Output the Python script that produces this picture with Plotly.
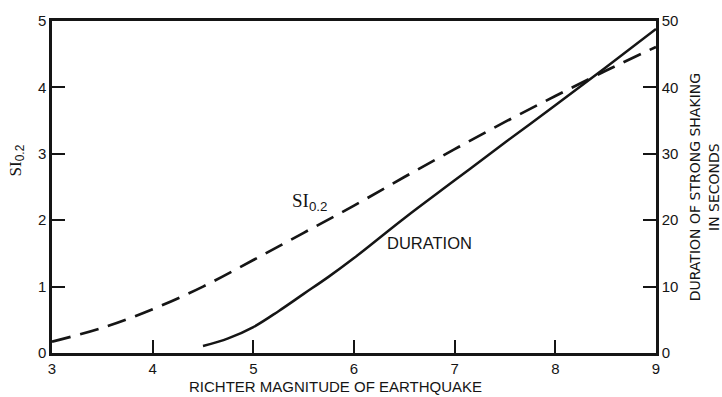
import plotly.graph_objects as go

# Spectrum intensity SI_0.2 versus Richter magnitude (left axis)
si_magnitude = [3.0, 3.5, 4.0, 4.5, 5.0, 5.5, 6.0, 6.5, 7.0, 7.5, 8.0, 8.5, 9.0]
si_values = [0.17, 0.38, 0.66, 1.00, 1.40, 1.81, 2.22, 2.65, 3.07, 3.48, 3.87, 4.25, 4.61]

# Duration of strong shaking in seconds versus magnitude (right axis)
dur_magnitude = [4.5, 4.75, 5.0, 5.25, 5.5, 5.75, 6.0, 6.5, 7.0, 7.5, 8.0, 8.5, 9.0]
dur_seconds = [1.05, 2.2, 3.9, 6.3, 8.9, 11.5, 14.3, 20.3, 26.0, 31.7, 37.3, 43.0, 48.8]

x_ticks = [3, 4, 5, 6, 7, 8, 9]
si_ticks = [0, 1, 2, 3, 4, 5]
dur_ticks = [0, 10, 20, 30, 40, 50]

SANS = "Liberation Sans, Arial, sans-serif"
WIDE = "DejaVu Sans, sans-serif"
SERIF = "Liberation Serif, serif"
INK = "#151515"
SI_TEXT = ("SI<sub><span style='font-family:Liberation Sans;color:#151515'>"
           "0.2</span></sub>")

fig = go.Figure()

fig.add_trace(go.Scatter(
    x=si_magnitude, y=si_values, mode="lines",
    line=dict(color=INK, width=2.7, dash="19px,10px", shape="spline"),
    yaxis="y", showlegend=False, hoverinfo="skip",
))
fig.add_trace(go.Scatter(
    x=dur_magnitude, y=dur_seconds, mode="lines",
    line=dict(color=INK, width=2.5, shape="spline"),
    yaxis="y2", showlegend=False, hoverinfo="skip",
))

axis_common = dict(
    showgrid=False, zeroline=False, showline=True, linecolor=INK, linewidth=2.5,
    ticks="inside", ticklen=13, tickwidth=1.6, tickcolor=INK,
    tickfont=dict(family=SANS, size=15, color=INK),
)

fig.update_layout(
    width=722, height=397,
    margin=dict(l=52, r=66, t=15, b=44),
    paper_bgcolor="white", plot_bgcolor="white",
    xaxis=dict(range=[3, 9], tickvals=x_ticks, mirror=True, **axis_common),
    yaxis=dict(range=[0, 5], tickvals=si_ticks, **axis_common),
    yaxis2=dict(range=[0, 50], tickvals=dur_ticks, overlaying="y", side="right",
                **axis_common),
    annotations=[
        dict(text="RICHTER MAGNITUDE OF EARTHQUAKE", xref="paper", yref="paper",
             x=0.47, y=-0.068, xanchor="center", yanchor="top", showarrow=False,
             font=dict(family=SANS, size=15, color=INK)),
        dict(text=SI_TEXT, xref="paper", yref="paper",
             x=-0.058, y=0.58, xanchor="center", yanchor="middle",
             textangle=-90, showarrow=False,
             font=dict(family=SERIF, size=17, color=INK)),
        dict(text="DURATION OF STRONG SHAKING<br>IN SECONDS", xref="paper", yref="paper",
             x=1.08, y=0.5, xanchor="center", yanchor="middle",
             textangle=-90, showarrow=False,
             font=dict(family=WIDE, size=14, color=INK)),
        dict(text=SI_TEXT, x=5.56, y=2.28, xref="x", yref="y",
             xanchor="center", showarrow=False,
             font=dict(family=SERIF, size=19, color=INK)),
        dict(text="DURATION", x=6.75, y=1.66, xref="x", yref="y",
             xanchor="center", showarrow=False,
             font=dict(family=SANS, size=16.5, color=INK)),
    ],
)

fig.write_html("out.html")
